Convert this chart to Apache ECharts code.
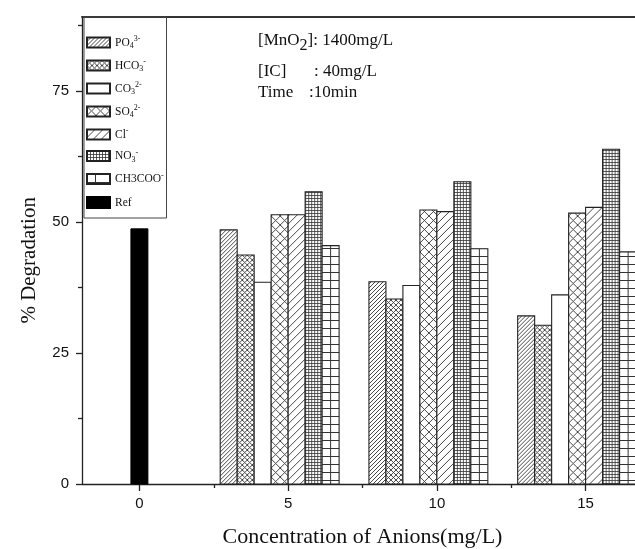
<!DOCTYPE html>
<html><head><meta charset="utf-8">
<script src="https://cdn.jsdelivr.net/npm/echarts@6/dist/echarts.min.js"></script>
<style>html,body{margin:0;padding:0;background:#fff}#c{width:635px;height:549px}</style>
</head><body><div id="c"></div>
<script>
// ---------------- data ----------------
const xTicks = [0, 5, 10, 15];
const xMinorTicks = [2.5, 7.5, 12.5];
const yTicks = [0, 25, 50, 75];
const yMinorTicks = [12.5, 37.5, 62.5, 87.5];
const concentrations = [5, 10, 15];
const anionNames = ['PO4', 'HCO3', 'CO3', 'SO4', 'Cl', 'NO3', 'CH3COO'];
const po4 = [48.5, 38.6, 32.1];
const hco3 = [43.7, 35.3, 30.3];
const co3 = [38.5, 37.9, 36.1];
const so4 = [51.4, 52.3, 51.7];
const cl = [51.4, 52.0, 52.8];
const no3 = [55.8, 57.7, 63.9];
const ch3coo = [45.5, 44.9, 44.3];
const refConc = [0];
const refValue = [48.7];
const anionValues = [po4, hco3, co3, so4, cl, no3, ch3coo];

// ---------------- styles ----------------
const BAR_W = 0.571; // bar width in axis units
const INK = '#222';
function tile(w, h, draw) {
  const c = document.createElement('canvas');
  c.width = w; c.height = h;
  const g = c.getContext('2d');
  g.fillStyle = '#fff'; g.fillRect(0, 0, w, h);
  g.strokeStyle = '#333'; g.lineWidth = 0.9;
  if (draw) draw(g, w, h);
  return c;
}
function slash(g, p) { g.beginPath(); for (let k = -1; k <= 1; k++) { g.moveTo(k * p, p); g.lineTo(k * p + p, 0); } g.stroke(); }
function back(g, p) { g.beginPath(); for (let k = -1; k <= 1; k++) { g.moveTo(k * p, 0); g.lineTo(k * p + p, p); } g.stroke(); }
const tiles = {
  PO4: tile(4, 4, (g) => slash(g, 4)),
  HCO3: tile(5, 5, (g) => { slash(g, 5); back(g, 5); }),
  CO3: tile(4, 4),
  SO4: tile(9, 9, (g) => { slash(g, 9); back(g, 9); }),
  Cl: tile(8, 8, (g) => slash(g, 8)),
  NO3: tile(3, 3, (g) => { g.lineWidth = 0.8; g.beginPath(); g.moveTo(0.5, 0); g.lineTo(0.5, 3); g.moveTo(0, 0.5); g.lineTo(3, 0.5); g.stroke(); }),
  CH3COO: tile(17, 8, (g) => { g.lineWidth = 1; g.beginPath(); g.moveTo(8.5, 0); g.lineTo(8.5, 8); g.moveTo(0, 0.5); g.lineTo(17, 0.5); g.stroke(); })
};
function pat(name, x, y) { return { image: tiles[name], repeat: 'repeat', x: x || 0, y: y || 0 }; }

const legendLabel = {
  PO4: '{t|PO}{sb|4}{sp|3-}',
  HCO3: '{t|HCO}{sb|3}{sp|-}',
  CO3: '{t|CO}{sb|3}{sp|2-}',
  SO4: '{t|SO}{sb|4}{sp|2-}',
  Cl: '{t|Cl}{sp|-}',
  NO3: '{t|NO}{sb|3}{sp|-}',
  CH3COO: '{t|CH3COO}{sp|-}',
  Ref: '{t|Ref}'
};
const legendRich = {
  t: { fontFamily: 'Liberation Serif', fontSize: 11.5, color: '#111' },
  sb: { fontFamily: 'Liberation Serif', fontSize: 8, padding: [7, 0, 0, 0], color: '#111' },
  sp: { fontFamily: 'Liberation Serif', fontSize: 8, padding: [0, 0, 7, 0], color: '#111' }
};

function anionRender(slot, name) {
  return function (params, api) {
    const x = api.value(0), v = api.value(1);
    const base = api.coord([x, 0]);
    const top = api.coord([x, v]);
    const w = api.size([BAR_W, 0])[0];
    const left = base[0] + (slot - 4) * w;
    return {
      type: 'rect',
      shape: { x: left, y: top[1], width: w, height: base[1] - top[1] },
      style: { fill: pat(name, left, 0), stroke: INK, lineWidth: 1.1 }
    };
  };
}
function refRender(params, api) {
  const x = api.value(0), v = api.value(1);
  const base = api.coord([x, 0]);
  const top = api.coord([x, v]);
  const w = api.size([BAR_W, 0])[0];
  return {
    type: 'rect',
    shape: { x: base[0] - w / 2, y: top[1], width: w, height: base[1] - top[1] },
    style: { fill: '#000', stroke: '#000', lineWidth: 1 }
  };
}

const series = anionNames.map((name, i) => ({
  type: 'custom',
  name: name,
  renderItem: anionRender(i, name),
  itemStyle: { color: pat(name), borderColor: INK, borderWidth: 1 },
  encode: { x: 0, y: 1 },
  data: concentrations.map((c, j) => [c, anionValues[i][j]]),
  clip: true
}));
series.push({
  type: 'custom',
  name: 'Ref',
  renderItem: refRender,
  itemStyle: { color: '#000', borderColor: '#000', borderWidth: 1 },
  encode: { x: 0, y: 1 },
  data: refConc.map((c, j) => [c, refValue[j]])
});

const axisLineStyle = { color: INK, width: 1.3 };
const tickFont = { fontFamily: 'Liberation Sans', fontSize: 15, color: '#111' };
const titleFont = { fontFamily: 'Liberation Serif', fontSize: 22, color: '#111' };
const noteFont = { fontFamily: 'Liberation Serif', fontSize: 17, fill: '#111' };
const X_MIN = -1.93, X_MAX = 16.66, Y_MAX = 89.2;

const option = {
  animation: false,
  backgroundColor: '#fff',
  grid: { left: 82, right: 0, top: 16.7, bottom: 65, containLabel: false, outerBoundsMode: 'none' },
  xAxis: [
    {
      type: 'value', min: X_MIN, max: X_MAX, position: 'bottom',
      axisLine: { show: true, onZero: false, lineStyle: axisLineStyle },
      axisTick: { show: true, customValues: xTicks, length: 7, lineStyle: axisLineStyle },
      axisLabel: { show: true, customValues: xTicks, margin: 12, ...tickFont },
      splitLine: { show: false },
      name: 'Concentration of Anions(mg/L)', nameLocation: 'middle', nameGap: 42,
      nameTextStyle: { ...titleFont, padding: [0, 0, 0, 8] }
    },
    {
      type: 'value', min: X_MIN, max: X_MAX, position: 'bottom',
      axisLine: { show: false, onZero: false },
      axisTick: { show: true, customValues: xMinorTicks, length: 4, lineStyle: axisLineStyle },
      axisLabel: { show: false },
      splitLine: { show: false }
    },
    {
      type: 'value', min: X_MIN, max: X_MAX, position: 'top',
      axisLine: { show: true, onZero: false, lineStyle: { color: '#333', width: 2 } },
      axisTick: { show: false }, axisLabel: { show: false }, splitLine: { show: false }
    }
  ],
  yAxis: [
    {
      type: 'value', min: 0, max: Y_MAX, position: 'left',
      axisLine: { show: true, onZero: false, lineStyle: axisLineStyle },
      axisTick: { show: true, customValues: yTicks, length: 6, lineStyle: axisLineStyle },
      axisLabel: { show: true, customValues: yTicks, margin: 13, ...tickFont },
      splitLine: { show: false },
      name: '% Degradation', nameLocation: 'middle', nameGap: 42, nameRotate: 90,
      nameTextStyle: { ...titleFont, fontSize: 21, padding: [0, 20, 0, 0] }
    },
    {
      type: 'value', min: 0, max: Y_MAX, position: 'left',
      axisLine: { show: false, onZero: false },
      axisTick: { show: true, customValues: yMinorTicks, length: 4, lineStyle: axisLineStyle },
      axisLabel: { show: false }, splitLine: { show: false }
    }
  ],
  legend: [
    {
      data: anionNames, orient: 'vertical', left: 86, top: 35, padding: 0,
      itemWidth: 23, itemHeight: 10, itemGap: 8, icon: 'rect',
      formatter: (n) => legendLabel[n], textStyle: { rich: legendRich },
      selectedMode: false
    },
    {
      data: ['Ref'], orient: 'vertical', left: 86, top: 196, padding: 0,
      itemWidth: 23, itemHeight: 11, icon: 'rect',
      formatter: (n) => legendLabel[n], textStyle: { rich: legendRich },
      selectedMode: false
    }
  ],
  graphic: [
    { type: 'rect', z: 1, shape: { x: 84, y: 17, width: 82.5, height: 201 }, style: { fill: 'transparent', stroke: '#444', lineWidth: 1 } },
    { type: 'text', x: 258, y: 41, style: { text: '[MnO{s|2}]: 1400mg/L', ...noteFont, verticalAlign: 'middle',
        rich: { s: { fontFamily: 'Liberation Serif', fontSize: 16, fill: '#111', padding: [10, 0, 0, 0] } } } },
    { type: 'text', x: 258, y: 72, style: { text: '[IC]', ...noteFont, verticalAlign: 'middle' } },
    { type: 'text', x: 314, y: 72, style: { text: ': 40mg/L', ...noteFont, verticalAlign: 'middle' } },
    { type: 'text', x: 258, y: 93, style: { text: 'Time', ...noteFont, verticalAlign: 'middle' } },
    { type: 'text', x: 309, y: 93, style: { text: ':10min', ...noteFont, verticalAlign: 'middle' } }
  ],
  series: series
};
const chart = echarts.init(document.getElementById('c'), null, { renderer: 'canvas' });
chart.setOption(option);
</script>
</body></html>
